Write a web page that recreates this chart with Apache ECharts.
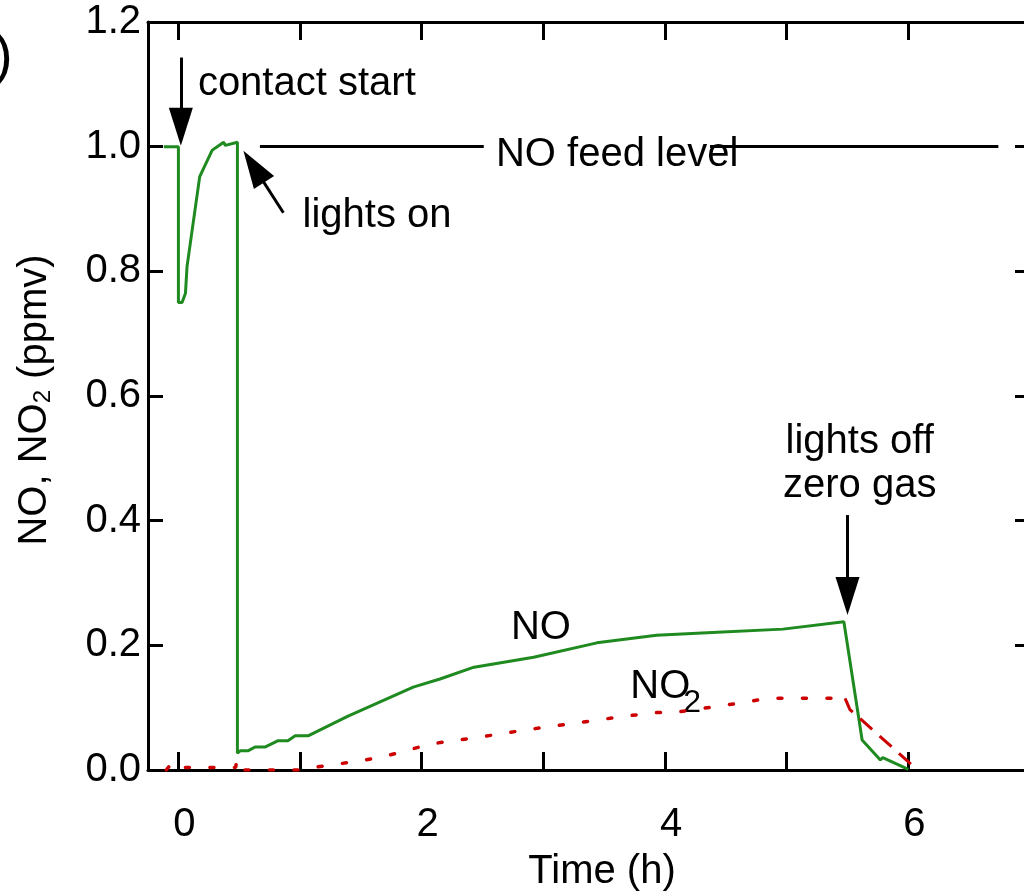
<!DOCTYPE html>
<html>

<head>
  <meta charset="utf-8">
  <title>NO / NO2 run</title>
  <script src="https://cdn.jsdelivr.net/npm/echarts@6/dist/echarts.min.js"></script>
</head>

<body style="margin:0">
  <div id="main" style="width:1024px;height:891px;"></div>
  <script type="text/javascript">
    // time in hours, concentrations in ppmv
    var noTime = [-0.12, 0.0, 0.0, 0.03, 0.058, 0.071, 0.175, 0.277, 0.304, 0.372, 0.386, 0.485, 0.485, 0.51, 0.575,
      0.63, 0.715, 0.82, 0.90, 0.96, 1.07, 1.39, 1.93, 2.15, 2.43, 2.92, 3.44, 3.93, 4.43, 4.97, 5.47, 5.62, 5.77, 5.79, 6.0];
    var noValue = [1.0, 1.0, 0.75, 0.75, 0.765, 0.808, 0.952, 0.994, 0.998, 1.007, 1.002, 1.007, 0.027, 0.031, 0.031,
      0.037, 0.037, 0.047, 0.047, 0.055, 0.055, 0.086, 0.133, 0.146, 0.165, 0.181, 0.204, 0.216, 0.221, 0.226, 0.238, 0.048, 0.016, 0.02, 0.001];

    var no2Time = [-0.10, -0.05, 0.0, 0.47, 0.48, 0.49, 1.0, 1.07, 1.47, 1.68, 1.87, 2.08, 2.48, 2.88, 3.29, 3.70, 3.92, 4.1, 4.5, 4.85, 5.48];
    var no2Value = [0.0, 0.012, 0.004, 0.004, 0.015, 0.0, 0.0, 0.003, 0.014, 0.021, 0.031, 0.042, 0.053, 0.065, 0.076, 0.087, 0.092, 0.093, 0.104, 0.115, 0.115];

    // after lights off / zero gas
    var no2OffTime = [5.48, 5.52, 6.03];
    var no2OffValue = [0.115, 0.097, 0.008];

    var feedLevel = 1.0;
    var feedSegments = [[0.67, 2.51], [4.37, 6.74]];

    var xTicks = [0, 1, 2, 3, 4, 5, 6, 7];
    var xLabels = [0, 2, 4, 6];

    // arrows: [from, to(symbol centre)]
    var arrows = [
      [[0.02, 1.143], [0.02, 1.032]],
      [[0.863, 0.894], [0.619, 0.968]],
      [[5.5, 0.409], [5.5, 0.279]]
    ];

    var notes = [
      { text: 'contact start', at: [0.16, 1.101], align: 'left' },
      { text: 'lights on', at: [1.02, 0.889], align: 'left' },
      { text: 'NO feed level', at: [2.61, 0.987], align: 'left' },
      { text: 'lights off\nzero gas', at: [5.6, 0.491], align: 'center' },
      { text: 'NO', at: [2.98, 0.228], align: 'center' },
      { text: 'NO', at: [3.714, 0.133], align: 'left' },
      { text: '2', at: [4.15, 0.108], align: 'left', size: 32 }
    ];

    function zip(a, b) {
      return a.map(function (v, i) { return [v, b[i]]; });
    }

    var FONT = 'Liberation Sans';
    var GREEN = '#1f8a1f';
    var RED = '#cc0000';

    var markData = [];
    feedSegments.forEach(function (s) {
      markData.push([{ coord: [s[0], feedLevel], symbol: 'none' }, { coord: [s[1], feedLevel], symbol: 'none' }]);
    });
    arrows.forEach(function (a) {
      markData.push([{ coord: a[0], symbol: 'none' }, { coord: a[1], symbol: 'triangle', symbolSize: [24, 38] }]);
    });

    var myChart = echarts.init(document.getElementById('main'));

    var axisCommon = {
      type: 'value',
      axisLine: { show: true, onZero: false, lineStyle: { color: '#000', width: 3 } },
      splitLine: { show: false }
    };

    var option = {
      backgroundColor: '#fff',
      animation: false,
      textStyle: { fontFamily: FONT },
      grid: { left: 148, top: 22, width: 882, height: 748, containLabel: false, outerBoundsMode: 'none' },
      xAxis: [
        Object.assign({}, axisCommon, {
          position: 'bottom', min: -0.25, max: 7,
          axisTick: { inside: true, length: 18, customValues: xTicks, lineStyle: { color: '#000', width: 3 } },
          axisLabel: { customValues: xLabels, fontSize: 40, color: '#000', margin: 35, fontFamily: FONT, padding: [0, 0, 0, 12] },
          name: 'Time (h)', nameLocation: 'middle', nameGap: 82,
          nameTextStyle: { fontSize: 40, color: '#000', fontFamily: FONT, padding: [0, 0, 0, 26] }
        }),
        Object.assign({}, axisCommon, {
          position: 'top', min: -0.25, max: 7,
          axisTick: { inside: true, length: 18, customValues: xTicks, lineStyle: { color: '#000', width: 3 } },
          axisLabel: { show: false }
        })
      ],
      yAxis: [
        Object.assign({}, axisCommon, {
          position: 'left', min: 0, max: 1.2, interval: 0.2,
          axisTick: { inside: true, length: 15, lineStyle: { color: '#000', width: 3 } },
          axisLabel: {
            fontSize: 40, color: '#000', margin: 7, fontFamily: FONT,
            formatter: function (v) { return v.toFixed(1); }
          }
        }),
        Object.assign({}, axisCommon, {
          position: 'right', min: 0, max: 1.2, interval: 0.2,
          axisTick: { inside: true, length: 15, lineStyle: { color: '#000', width: 3 } },
          axisLabel: { show: false }
        })
      ],
      series: [
        {
          name: 'NO', type: 'line', data: zip(noTime, noValue),
          showSymbol: false, silent: true,
          lineStyle: { color: GREEN, width: 3 }
        },
        {
          name: 'NO2', type: 'line', data: zip(no2Time, no2Value),
          showSymbol: false, silent: true,
          lineStyle: { color: RED, width: 3.5, type: [4, 20.5], cap: 'round' }
        },
        {
          name: 'NO2 off', type: 'line', data: zip(no2OffTime, no2OffValue),
          showSymbol: false, silent: true,
          lineStyle: { color: RED, width: 3, type: [16, 10] }
        },
        {
          name: 'annotations', type: 'line', data: [],
          markLine: {
            silent: true, animation: false,
            label: { show: false },
            lineStyle: { color: '#000', width: 3, type: 'solid' },
            itemStyle: { color: '#000' },
            emphasis: { disabled: true },
            data: markData
          }
        }
      ]
    };

    myChart.setOption(option);

    var graphics = notes.map(function (n) {
      var p = myChart.convertToPixel({ xAxisIndex: 0, yAxisIndex: 0 }, n.at);
      return {
        type: 'text', x: p[0], y: p[1], silent: true,
        style: {
          text: n.text, fill: '#000', font: (n.size || 40) + 'px "' + FONT + '"',
          align: n.align, verticalAlign: 'middle', lineHeight: 44
        }
      };
    });

    // y axis title, built from pieces so the 2 can sit as a subscript
    var ctx = document.createElement('canvas').getContext('2d');
    var titleParts = [
      { text: 'NO, NO', size: 40, shift: 0 },
      { text: '2', size: 24, shift: 8 },
      { text: ' (ppmv)', size: 40, shift: 0 }
    ];
    var total = 0;
    titleParts.forEach(function (t) {
      ctx.font = t.size + 'px "' + FONT + '"';
      t.w = ctx.measureText(t.text).width;
      total += t.w;
    });
    var ty = 400 + total / 2;
    titleParts.forEach(function (t) {
      graphics.push({
        type: 'text', x: 35 + t.shift, y: ty, rotation: Math.PI / 2, silent: true,
        style: {
          text: t.text, fill: '#000', font: t.size + 'px "' + FONT + '"',
          align: 'left', verticalAlign: 'middle'
        }
      });
      ty -= t.w;
    });

    // cut-off panel label
    graphics.push({
      type: 'text', x: -6, y: 58, silent: true,
      style: { text: ')', fill: '#000', font: '56px "' + FONT + '"', align: 'left', verticalAlign: 'middle' }
    });

    myChart.setOption({ graphic: graphics });
  </script>
</body>

</html>
